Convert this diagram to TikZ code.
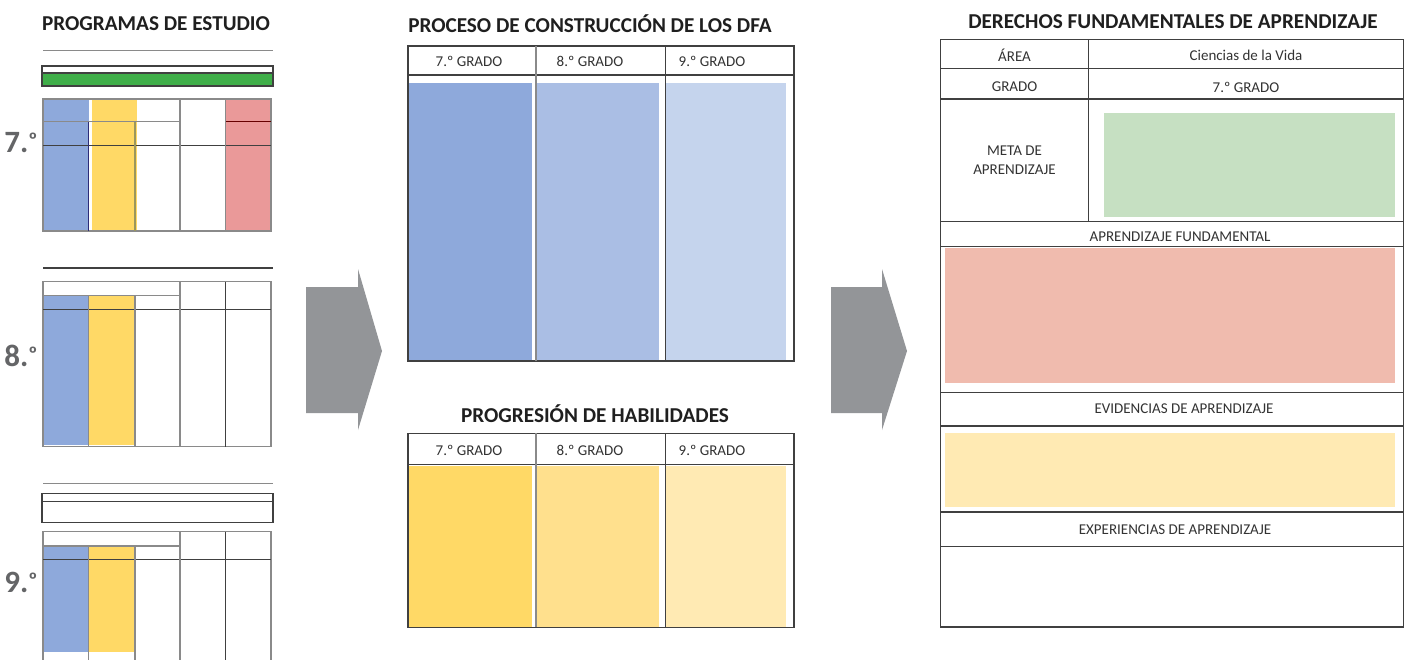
\documentclass[tikz,border=0pt]{standalone}
\usepackage{fontspec}
\setmainfont{Carlito}
\definecolor{blueA}{HTML}{8EA9DB}
\definecolor{blueB}{HTML}{AABEE4}
\definecolor{blueC}{HTML}{C5D4ED}
\definecolor{yellowA}{HTML}{FFD966}
\definecolor{yellowB}{HTML}{FFE08D}
\definecolor{yellowC}{HTML}{FFEAB3}
\definecolor{redA}{HTML}{EA9999}
\definecolor{greenA}{HTML}{3FAE49}
\definecolor{greenL}{HTML}{C6E0C2}
\definecolor{salmon}{HTML}{F0BBAE}
\definecolor{arrowgrey}{HTML}{939598}
\definecolor{darkline}{HTML}{404040}
\definecolor{greyline}{HTML}{8A8A8A}
\definecolor{txt}{HTML}{333333}
\definecolor{bigtxt}{HTML}{646567}
\newcommand{\bigord}{\raisebox{5pt}{\fontsize{21}{21}\selectfont º}}
\begin{document}
\begin{tikzpicture}[x=1pt,y=-1pt,
  dl/.style={draw=darkline,line width=1.2pt},
  gl/.style={draw=greyline,line width=1.4pt},
  titletext/.style={font=\fontsize{21.2}{23}\selectfont\bfseries,text=black!88,inner sep=0pt},
  celltext/.style={font=\fontsize{15}{17.5}\selectfont,text=txt,inner sep=0pt,align=center},
  biglab/.style={font=\fontsize{31}{31}\selectfont\bfseries,text=bigtxt,inner sep=0pt},
  bigarrow/.style={fill=arrowgrey}]
\useasboundingbox (0,0) rectangle (1408,659);
\fill[white] (0,0) rectangle (1408,659);

% ---------------- LEFT ----------------
\node[titletext] (t1) at (156,24) {PROGRAMAS DE ESTUDIO};
% 7
\draw[gl] (43,50.5) -- (273,50.5);
\draw[dl,fill=white] (42,66) rectangle (273,73);
\draw[dl,fill=greenA] (42,73) rectangle (273,86);
\fill[blueA] (43,99) rectangle (88.7,231);
\fill[yellowA] (92,99) rectangle (136.7,231);
\fill[redA] (225.7,99) rectangle (271,231);
\draw[gl] (43,99) rectangle (271,231);
\draw[gl] (43,121.7) -- (180,121.7);
\draw[draw=red!40!black,line width=1.2pt] (225.7,121.7) -- (271,121.7);
\draw[dl] (43,145.3) -- (271,145.3);
\draw[draw=blue!30!darkline,line width=1.2pt] (88.7,121.7) -- (88.7,231);
\draw[draw=yellow!40!darkline,line width=1.2pt] (135,121.7) -- (135,231);
\draw[gl] (180,99) -- (180,231);
\draw[gl] (225.7,99) -- (225.7,231);
\node[biglab] (l7) at (21,143) {7.\bigord};
% 8
\draw[dl] (43,268) -- (273,268);
\fill[blueA] (43,295.7) rectangle (88.7,445);
\fill[yellowA] (88.7,295.7) rectangle (135,445);
\draw[gl] (43,281.7) rectangle (271,446.7);
\draw[gl] (43,295.7) -- (180,295.7);
\draw[dl] (43,309.3) -- (271,309.3);
\draw[gl] (88.7,295.7) -- (88.7,446.7);
\draw[gl] (135,295.7) -- (135,446.7);
\draw[gl] (180,281.7) -- (180,446.7);
\draw[dl] (225.7,281.7) -- (225.7,446.7);
\node[biglab] (l8) at (21,356) {8.\bigord};
% 9
\draw[gl] (43,483.3) -- (273,483.3);
\draw[dl] (42,493.7) rectangle (273,501.3);
\draw[dl] (42,501.3) rectangle (273,522.7);
\fill[blueA] (43,546) rectangle (88.7,651.7);
\fill[yellowA] (88.7,546) rectangle (135,651.7);
\draw[gl] (43,660) -- (43,531.7) -- (271,531.7) -- (271,660);
\draw[gl] (43,546) -- (180,546);
\draw[dl] (43,559.3) -- (271,559.3);
\draw[gl] (88.7,546) -- (88.7,660);
\draw[gl] (135,546) -- (135,660);
\draw[gl] (180,531.7) -- (180,660);
\draw[dl] (225.7,531.7) -- (225.7,660);
\node[biglab] (l9) at (21,582) {9.\bigord};

% ---------------- ARROWS ----------------
\fill[bigarrow] (306,287) -- (358,287) -- (358,269) -- (382,351) -- (358,430) -- (358,413) -- (306,413) -- cycle;
\fill[bigarrow] (831,287) -- (882,287) -- (882,269) -- (907,351) -- (882,430) -- (882,413) -- (831,413) -- cycle;

% ---------------- MIDDLE ----------------
\node[titletext] (t2) at (590,24) {PROCESO DE CONSTRUCCIÓN DE LOS DFA};
\fill[blueA] (408,83.3) rectangle (532.3,360);
\fill[blueB] (537.3,83.3) rectangle (659,360);
\fill[blueC] (666,83.3) rectangle (786,360);
\draw[dl] (408,46) rectangle (794,361);
\draw[dl] (408,75) -- (794,75);
\draw[gl] (536,46) -- (536,361);
\draw[dl] (665.7,46) -- (665.7,361);
\node[celltext] (g71) at (469,61) {7.º GRADO};
\node[celltext] (g81) at (590,61) {8.º GRADO};
\node[celltext] (g91) at (712,61) {9.º GRADO};

\node[titletext] (t3) at (595,414) {PROGRESIÓN DE HABILIDADES};
\fill[yellowA] (408,466) rectangle (532.3,627);
\fill[yellowB] (537.3,466) rectangle (659,627);
\fill[yellowC] (666,466) rectangle (786,627);
\draw[dl] (408,433.3) rectangle (794,627.3);
\draw[dl] (408,464.3) -- (794,464.3);
\draw[gl] (536,433.3) -- (536,627.3);
\draw[dl] (665.7,433.3) -- (665.7,627.3);
\node[celltext] (g72) at (469,450) {7.º GRADO};
\node[celltext] (g82) at (590,450) {8.º GRADO};
\node[celltext] (g92) at (712,450) {9.º GRADO};

% ---------------- RIGHT ----------------
\node[titletext] (t4) at (1173,22) {DERECHOS FUNDAMENTALES DE APRENDIZAJE};
\fill[greenL] (1104,112.7) rectangle (1395,216.7);
\fill[salmon] (945,248.3) rectangle (1395,382.7);
\fill[yellowC] (945,433) rectangle (1395,507.3);
\draw[dl] (940.7,39.3) rectangle (1403.3,627);
\foreach \yy in {68.3,99,221.7,246.7,392.7,426,512,546.7}
  \draw[dl] (940.7,\yy) -- (1403.3,\yy);
\draw[dl] (1088.3,39.3) -- (1088.3,221.7);
\node[celltext] (area) at (1014.5,55) {ÁREA};
\node[celltext] (cien) at (1246,55) {Ciencias de la Vida};
\node[celltext] (grado) at (1014.5,87) {GRADO};
\node[celltext] (g7r) at (1246,87) {7.º GRADO};
\node[celltext] (meta) at (1014.5,160) {META DE\\[2pt]APRENDIZAJE};
\node[celltext] (apf) at (1180,237) {APRENDIZAJE FUNDAMENTAL};
\node[celltext] (evi) at (1184,409) {EVIDENCIAS DE APRENDIZAJE};
\node[celltext] (exp) at (1175,530) {EXPERIENCIAS DE APRENDIZAJE};
\end{tikzpicture}
\end{document}
